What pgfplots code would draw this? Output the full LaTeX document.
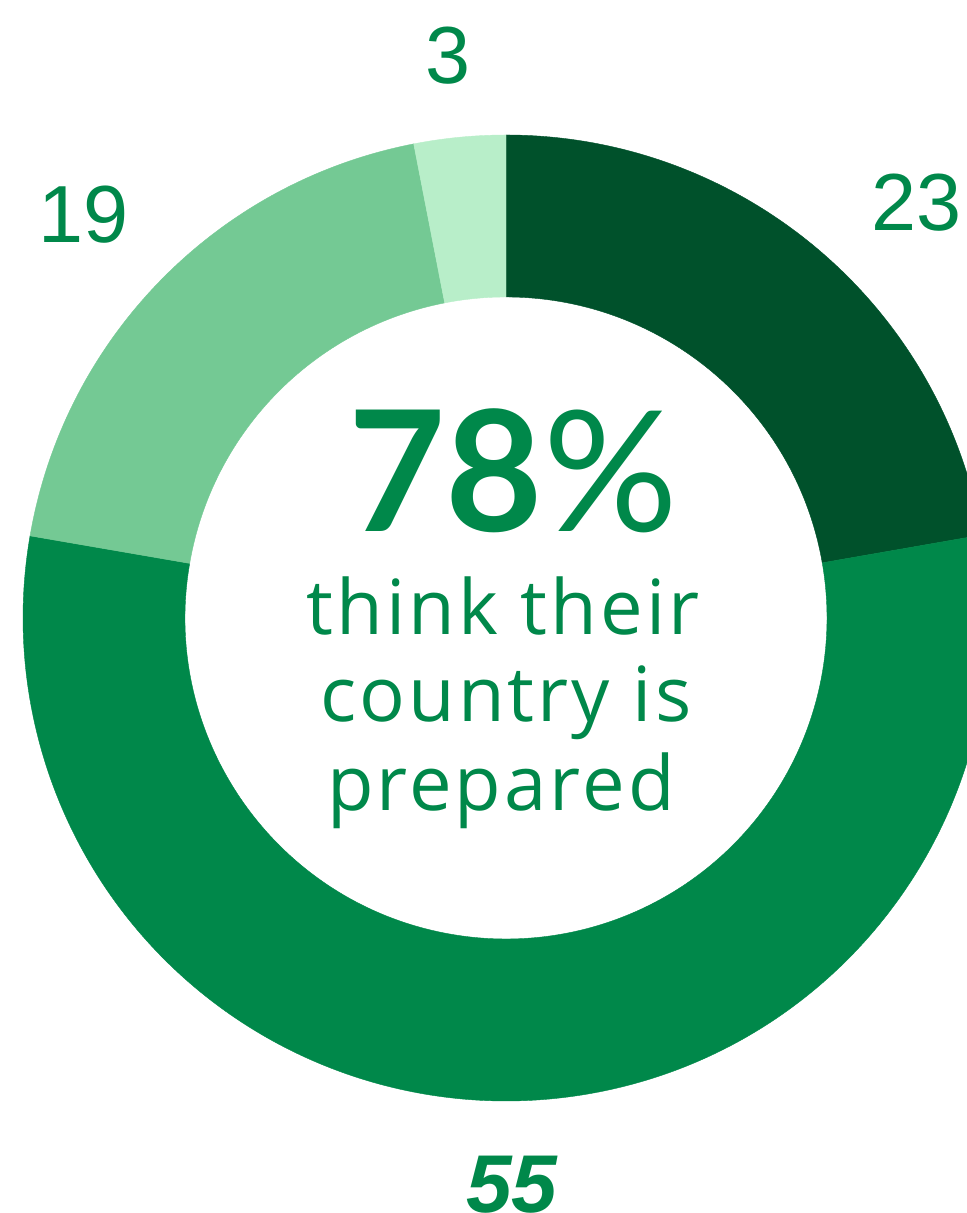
\documentclass[border=0pt]{standalone}
\usepackage{pgfplots}
\pgfplotsset{compat=1.18}
\usepackage{fontspec}
\setmainfont{Liberation Sans}
\newfontfamily\latofont{Lato}
\newfontfamily\bodyfont[LetterSpace=4]{Open Sans}
\definecolor{cDark}{HTML}{00512B}
\definecolor{cMid}{HTML}{00884A}
\definecolor{cLight}{HTML}{74C994}
\definecolor{cLightest}{HTML}{B8EEC9}
\definecolor{cText}{HTML}{00884A}
% slice shares (percent), clockwise from 12 o'clock
\def\sA{22.25}\def\sB{55.47}\def\sC{19.22}\def\sD{3.06}
\pgfmathsetmacro\aO{90}
\pgfmathsetmacro\aA{\aO-3.6*\sA}
\pgfmathsetmacro\aB{\aA-3.6*\sB}
\pgfmathsetmacro\aC{\aB-3.6*\sC}
\pgfmathsetmacro\aD{\aC-3.6*\sD}
\newcommand{\slice}[3]{%
  \fill[#3, draw=#3, line width=0.2pt] (axis cs:506,595) ++(#1:241.5pt)
    arc[start angle=#1, end angle=#2, radius=241.5pt]
    -- ([shift={(#2:160.5pt)}]axis cs:506,595)
    arc[start angle=#2, end angle=#1, radius=160.5pt] -- cycle;}
\begin{document}
\begin{tikzpicture}
\clip (0,0) rectangle (483.5pt,606.5pt);
\begin{axis}[hide axis, scale only axis, width=483.5pt, height=606.5pt,
  xmin=0, xmax=967, ymin=0, ymax=1213, clip=false, at={(0,0)}, anchor=south west]
\slice{\aO}{\aA}{cDark}
\slice{\aA}{\aB}{cMid}
\slice{\aB}{\aC}{cLight}
\slice{\aC}{\aD}{cLightest}
\node[text=cText, inner sep=0, anchor=base, font=\fontsize{40.5}{48}\selectfont] at (axis cs:448,1129) {3};
\node[text=cText, inner sep=0, anchor=base west, font=\fontsize{40.5}{48}\selectfont] at (axis cs:871,982) {23};
\node[text=cText, inner sep=0, anchor=base, font=\fontsize{40.5}{48}\selectfont] at (axis cs:84,970) {19};
\node[text=cText, inner sep=0, anchor=base, font=\fontsize{41}{48}\selectfont\bfseries\itshape] at (axis cs:512,0) {55};
\node[text=cText, inner sep=0, anchor=base, font=\latofont\fontsize{84}{90}\selectfont] at (axis cs:513,681) {{\bfseries 78}\%};
\node[text=cText, inner sep=0, anchor=base, font=\bodyfont\fontsize{38}{44}\selectfont] at (axis cs:503,578) {think their};
\node[text=cText, inner sep=0, anchor=base, font=\bodyfont\fontsize{38}{44}\selectfont] at (axis cs:506,491) {country is};
\node[text=cText, inner sep=0, anchor=base, font=\bodyfont\fontsize{38}{44}\selectfont] at (axis cs:501,402) {prepared};
\end{axis}
\end{tikzpicture}
\end{document}
